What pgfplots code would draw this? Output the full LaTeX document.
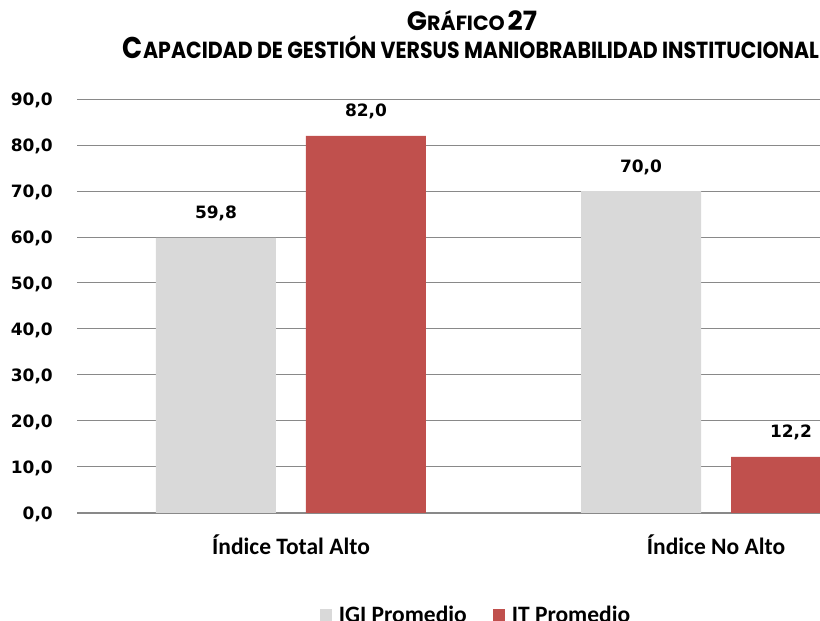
\documentclass[border=0pt]{standalone}
\usepackage{graphicx}
\usepackage{pgfplots}
\pgfplotsset{compat=1.18}
\usepackage{fontspec}
\setmainfont{Carlito}
\newfontfamily\dejavu{DejaVu Sans}
\newfontfamily\titlefont{Poppins}
\newfontfamily\titlefontc{Poppins}[FakeStretch=0.88]
\definecolor{grisbar}{HTML}{D9D9D9}
\definecolor{rojobar}{HTML}{C0504D}
\definecolor{gridc}{HTML}{898989}
\def\BIG{\fontsize{20}{20}\selectfont}
\def\SMALL{\fontsize{15.5}{15.5}\selectfont}
\begin{document}
\begin{tikzpicture}[x=1pt,y=1pt]
\useasboundingbox (0,0) rectangle (820,621);
\node[anchor=base, inner sep=0pt] at (472,590) {\resizebox{130pt}{!}{\titlefont\bfseries {\BIG G}{\SMALL RÁFICO} {\BIG 27}}};
\node[anchor=base, inner sep=0pt] at (471,562) {\resizebox{696pt}{!}{\titlefontc\bfseries {\BIG C}{\SMALL APACIDAD DE GESTIÓN VERSUS MANIOBRABILIDAD INSTITUCIONAL}}};
\begin{axis}[
  at={(77pt,108pt)}, anchor=south west,
  scale only axis, width=743pt, height=414pt,
  xmin=-0.5035, xmax=1.2447, ymin=0, ymax=90,
  ybar, bar width=120pt,
  axis x line*=bottom, axis y line*=left,
  x axis line style={draw=gridc, line width=1.2pt, -},
  y axis line style={draw=none},
  major tick length=0pt,
  ytick={0,10,...,90},
  yticklabels={{0,0},{10,0},{20,0},{30,0},{40,0},{50,0},{60,0},{70,0},{80,0},{90,0}},
  yticklabel style={font=\dejavu\bfseries\fontsize{17}{17}\selectfont, anchor=base east, inner sep=0pt, xshift=-24pt, yshift=-6.2pt},
  xtick={0,1}, xticklabels={Índice Total Alto, Índice No Alto},
  xticklabel style={font=\bfseries\fontsize{23.5}{23.5}\selectfont, anchor=base, inner sep=0pt, yshift=-42pt},
  ymajorgrids, major grid style={draw=gridc, line width=1pt},
  nodes near coords={\pgfmathprintnumber[fixed,fixed zerofill,precision=1,use comma,assume math mode=true]{\pgfplotspointmeta}},
  every node near coord/.append style={font=\dejavu\bfseries\fontsize{17}{17}\selectfont, anchor=base, yshift=19pt, inner sep=0pt, text=black},
  legend columns=2,
  legend style={at={(axis description cs:0.537,-0.247)}, anchor=center, draw=none, fill=none, font=\bfseries\fontsize{23.5}{23.5}\selectfont, /tikz/every even column/.append style={column sep=24pt}, /tikz/every odd column/.append style={column sep=5pt}},
  legend image code/.code={\fill[#1,/tikz/.cd,draw=none] (0pt,-6pt) rectangle (12pt,6pt);},
]
\addplot[fill=grisbar, draw=none, bar shift=-75pt] coordinates {(0,59.8) (1,70.0)};
\addplot[fill=rojobar, draw=none, bar shift=75pt] coordinates {(0,82.0) (1,12.2)};
\legend{IGI Promedio, IT Promedio}
\end{axis}
\end{tikzpicture}
\end{document}
